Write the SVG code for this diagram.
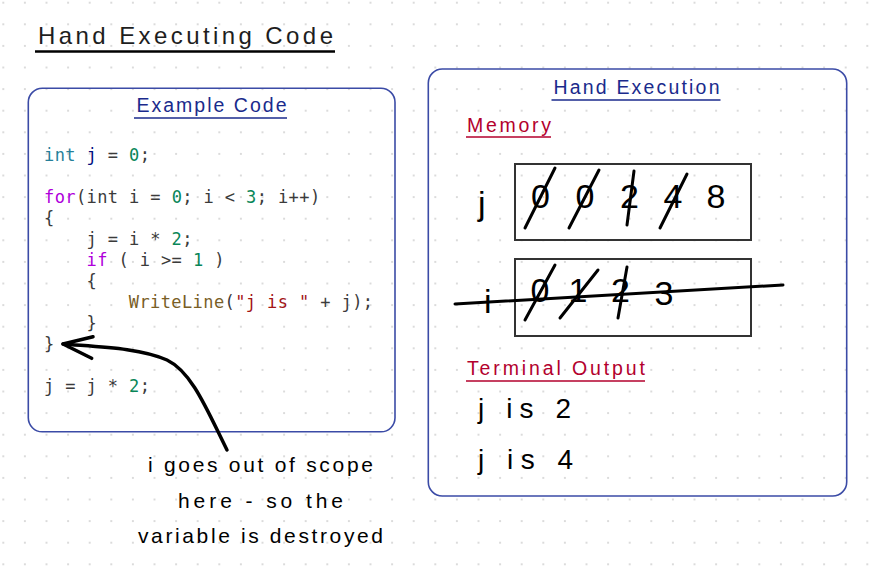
<svg xmlns="http://www.w3.org/2000/svg" width="874" height="573" viewBox="0 0 874 573">
<defs>
<pattern id="dots" x="-7.5" y="-8.1" width="21.6" height="21.6" patternUnits="userSpaceOnUse">
<circle cx="10.8" cy="10.8" r="1" fill="#cfcfcf"/>
</pattern>
<style>
.hand{font-family:"Liberation Sans","Noto Sans",sans-serif;}
.code{font-family:"DejaVu Sans Mono","Liberation Mono",monospace;font-size:17px;letter-spacing:0.4px;fill:#3b3b3b;white-space:pre;}
.kw{fill:#af00db}.ty{fill:#267f99}.var{fill:#001080}.num{fill:#098658}.fn{fill:#795e26}.str{fill:#a31515}
.box{fill:none;stroke:#3b4ba6;stroke-width:1.6}
.mem{fill:none;stroke:#333;stroke-width:2}
.strike{stroke:#000;stroke-width:3;stroke-linecap:round;fill:none}
.navy{fill:#1a2a8c}.red{fill:#b3002d}
.ulnavy{stroke:#1a2a8c;stroke-width:1.5}.ulred{stroke:#b3002d;stroke-width:1.5}
.big{font-size:34px;fill:#000}
.out{font-size:28px;fill:#000}
.note{font-size:21px;fill:#000}
</style>
</defs>
<rect width="874" height="573" fill="#ffffff"/>
<rect width="874" height="573" fill="url(#dots)"/>

<g id="title">
<text class="hand" x="38" y="43.5" font-size="24" fill="#1e1e1e" textLength="295" lengthAdjust="spacing">Hand Executing Code</text>
<line x1="35" y1="51.5" x2="335" y2="51.5" stroke="#000" stroke-width="2.5"/>
</g>

<g id="example-code">
<rect class="box" x="28.3" y="88.3" width="366.7" height="343.5" rx="14"/>
<text class="hand navy" x="136.5" y="111.5" font-size="19.5" textLength="150" lengthAdjust="spacing">Example Code</text>
<line class="ulnavy" x1="134" y1="118" x2="287" y2="118"/>
<text class="code" x="44" y="161"><tspan class="ty">int</tspan> <tspan class="var">j</tspan> = <tspan class="num">0</tspan>;</text>
<text class="code" x="44" y="203"><tspan class="kw">for</tspan>(int i = <tspan class="num">0</tspan>; i &lt; <tspan class="num">3</tspan>; i++)</text>
<text class="code" x="44" y="224">{</text>
<text class="code" x="86.5" y="245">j = i * <tspan class="num">2</tspan>;</text>
<text class="code" x="86.5" y="266"><tspan class="kw">if</tspan> ( i &gt;= <tspan class="num">1</tspan> )</text>
<text class="code" x="86.5" y="287">{</text>
<text class="code" x="128.8" y="308"><tspan class="fn">WriteLine</tspan>(<tspan class="str">"j is "</tspan> + j);</text>
<text class="code" x="86.5" y="329">}</text>
<text class="code" x="44" y="350">}</text>
<text class="code" x="44" y="392">j = j * <tspan class="num">2</tspan>;</text>
</g>

<g id="hand-execution">
<rect class="box" x="428.3" y="69" width="418.4" height="427" rx="14"/>
<text class="hand navy" x="553.5" y="93.5" font-size="19.5" textLength="166" lengthAdjust="spacing">Hand Execution</text>
<line class="ulnavy" x1="551.5" y1="100" x2="720.5" y2="100"/>
</g>

<g id="memory">
<text class="hand red" x="467" y="132" font-size="19.5" textLength="84" lengthAdjust="spacing">Memory</text>
<line class="ulred" x1="466" y1="137" x2="551" y2="137"/>
</g>

<g id="var-j">
<rect class="mem" x="515" y="164" width="236" height="76"/>
<text class="hand big" x="478" y="215" font-size="38">j</text>
<text class="hand big" x="540.5" y="208" text-anchor="middle">0</text>
<text class="hand big" x="585" y="208" text-anchor="middle">0</text>
<text class="hand big" x="629.5" y="208" text-anchor="middle">2</text>
<text class="hand big" x="673" y="208" text-anchor="middle">4</text>
<text class="hand big" x="716" y="208" text-anchor="middle">8</text>
<line class="strike" x1="525" y1="228" x2="555" y2="168"/>
<line class="strike" x1="569" y1="228" x2="599" y2="170"/>
<line class="strike" x1="634" y1="171" x2="627" y2="225"/>
<line class="strike" x1="687" y1="174" x2="660" y2="228"/>
</g>

<g id="var-i">
<rect class="mem" x="515" y="259" width="236" height="77"/>
<text class="hand big" x="484" y="313" font-size="36">i</text>
<text class="hand big" x="540" y="302" text-anchor="middle">0</text>
<text class="hand big" x="578" y="302" text-anchor="middle">1</text>
<text class="hand big" x="620.5" y="302" text-anchor="middle">2</text>
<text class="hand big" x="664" y="305" text-anchor="middle">3</text>
<line class="strike" x1="525" y1="320" x2="555" y2="265"/>
<line class="strike" x1="560" y1="318" x2="598" y2="270"/>
<line class="strike" x1="627" y1="267" x2="618" y2="318"/>
<line class="strike" x1="455" y1="304" x2="783" y2="285"/>
</g>

<g id="terminal-output">
<text class="hand red" x="467" y="375" font-size="19.5" textLength="178" lengthAdjust="spacing">Terminal Output</text>
<line class="ulred" x1="466" y1="381" x2="645" y2="381"/>
<text class="hand out" x="478" y="418" textLength="93" lengthAdjust="spacing">j is 2</text>
<text class="hand out" x="478" y="469" textLength="95" lengthAdjust="spacing">j is 4</text>
</g>

<g id="note">
<text class="hand note" x="260.5" y="472" text-anchor="middle" textLength="225" lengthAdjust="spacing">i goes out of scope</text>
<text class="hand note" x="260.5" y="508" text-anchor="middle" textLength="165" lengthAdjust="spacing">here - so the</text>
<text class="hand note" x="260.5" y="543" text-anchor="middle" textLength="245" lengthAdjust="spacing">variable is destroyed</text>
</g>

<g id="connectors">
<path d="M 227 450 C 207 410, 192 372, 167 360 C 140 348, 100 347, 63 344" fill="none" stroke="#000" stroke-width="3.5" stroke-linecap="round"/>
<path d="M 93 336.7 L 63 344 L 91.7 358.3" fill="none" stroke="#000" stroke-width="3.5" stroke-linecap="round" stroke-linejoin="round"/>
</g>
</svg>
